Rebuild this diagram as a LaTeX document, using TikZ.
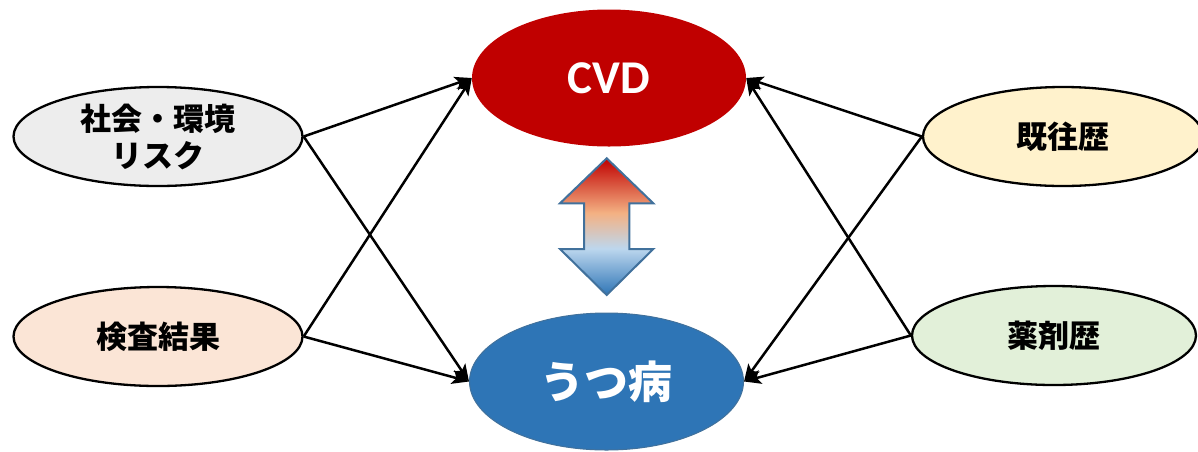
\documentclass[tikz,border=0pt]{standalone}
\usepackage{fontspec}
\usetikzlibrary{shapes.geometric,arrows.meta}
\newfontfamily\jp{Noto Sans CJK JP}
\newfontfamily\calb{Carlito}
\definecolor{cvdred}{HTML}{C00000}
\definecolor{ublue}{HTML}{2E75B6}
\definecolor{lblue}{HTML}{BDD7EE}
\definecolor{peach}{HTML}{F4B183}
\definecolor{outl}{HTML}{41719C}
\definecolor{gsoc}{HTML}{EDEDED}
\definecolor{ckensa}{HTML}{FBE5D6}
\definecolor{cki}{HTML}{FFF2CC}
\definecolor{cyaku}{HTML}{E2F0D9}
\pgfdeclareverticalshading{dblarrow}{100bp}{color(0bp)=(ublue); color(25bp)=(ublue); color(42bp)=(lblue); color(55bp)=(peach); color(75bp)=(cvdred); color(100bp)=(cvdred)}
\begin{document}
\begin{tikzpicture}[x=1pt,y=-1pt,
 every node/.style={inner sep=0pt},
 side/.style={ellipse, draw=black, line width=2.3pt, minimum width=289pt, minimum height=99pt,
   font=\jp\bfseries\fontsize{31}{37}\selectfont, align=center, text=black},
 mainell/.style={ellipse, minimum width=274pt, minimum height=137pt, text=white},
 conn/.style={line width=2.5pt, -{Stealth[length=17pt,width=14pt,inset=4pt]}}]
\useasboundingbox (0,0) rectangle (1198,451);
\node[side, fill=gsoc] (soc) at (158,136.5) {社会・環境\\リスク};
\node[side, fill=ckensa] (ken) at (158,336.5) {検査結果};
\node[side, fill=cki, minimum width=280pt] (ki) at (1063,136.5) {既往歴};
\node[side, fill=cyaku, minimum width=284pt] (yak) at (1054,335.5) {薬剤歴};
\node[mainell, fill=cvdred] (cvd) at (609,78) {\calb\bfseries\fontsize{47}{50}\selectfont CVD};
\node[mainell, fill=ublue, draw=outl, line width=1pt] (utsu) at (606.5,381.5) {\jp\bfseries\fontsize{44}{50}\selectfont うつ病};
\draw[conn] (soc.east) -- (cvd.west);
\draw[conn] (soc.east) -- (utsu.west);
\draw[conn] (ken.east) -- (cvd.west);
\draw[conn] (ken.east) -- (utsu.west);
\draw[conn] (ki.west) -- (cvd.east);
\draw[conn] (ki.west) -- (utsu.east);
\draw[conn] (yak.west) -- (cvd.east);
\draw[conn] (yak.west) -- (utsu.east);
\path[shading=dblarrow, draw=outl, line width=2pt, line join=miter]
  (606.7,158.3) -- (653.3,203.3) -- (629.3,203.3) -- (629.3,249) -- (653.3,249)
  -- (606.7,295) -- (560,249) -- (584,249) -- (584,203.3) -- (560,203.3) -- cycle;
\end{tikzpicture}
\end{document}
